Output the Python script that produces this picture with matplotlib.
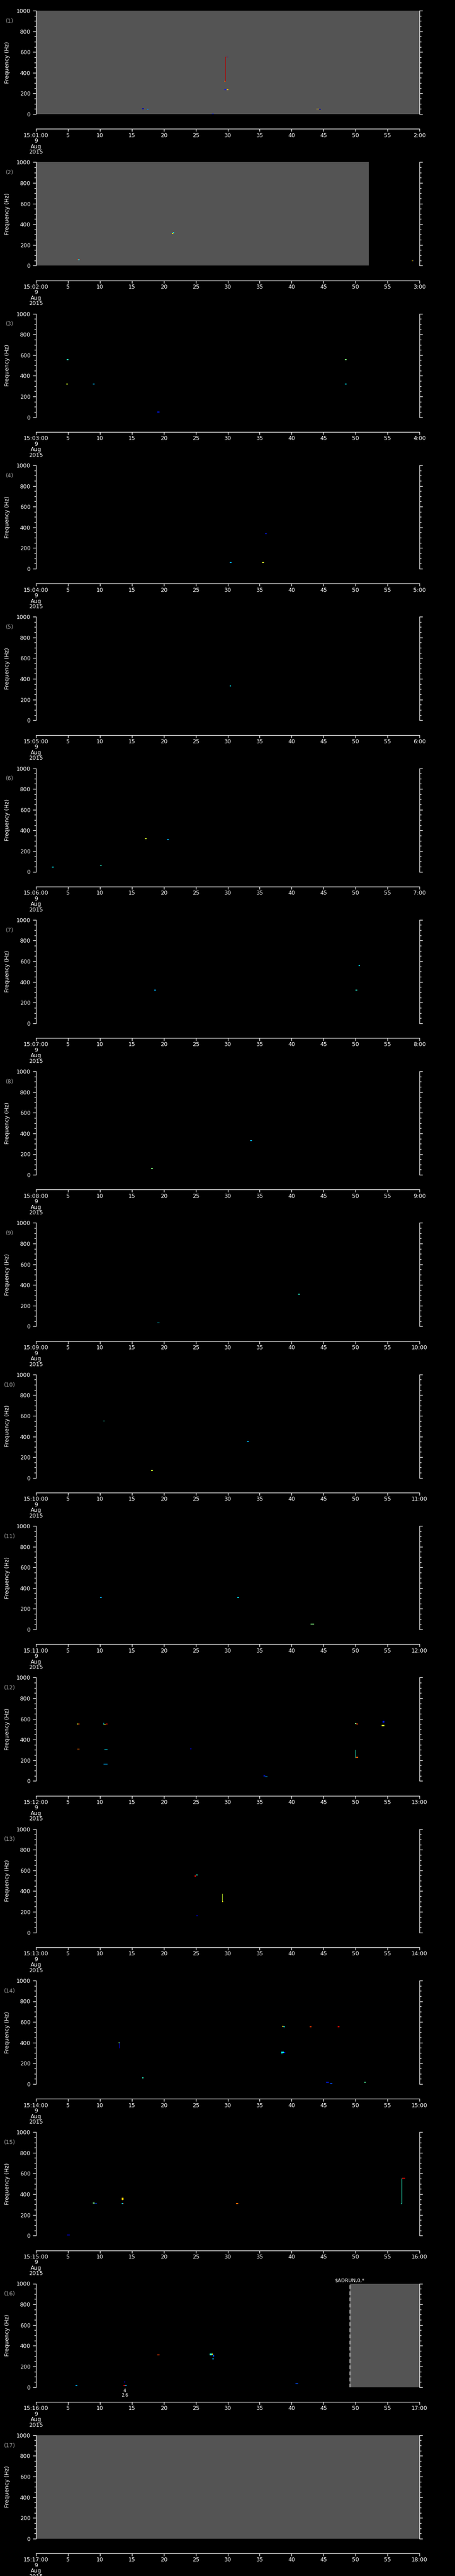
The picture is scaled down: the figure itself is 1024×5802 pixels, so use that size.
import numpy as np
import matplotlib.pyplot as plt

# one panel per minute, 15:01 .. 15:17 on 9 Aug 2015
panels = list(range(1, 18))
date_lines = ["9", "Aug", "2015"]
sec_ticks = list(range(0, 61, 5))

# seconds of each panel covered by "data but quiet" (grey)
gray_panel = [1, 2, 16, 17]
gray_start = [0, 0, 49.05, 0]
gray_end = [60, 52.1, 60, 60]

# small spectral blobs: (panel, t0 s, t1 s, f0 Hz, f1 Hz, colour level 0..1)
specks = [
    (1, 16.6, 16.9, 46, 54, 0.05), (1, 17.4, 17.6, 44, 52, 0.25),
    (1, 27.5, 27.8, 0, 6, 0.15), (1, 29.5, 29.8, 230, 240, 0.15),
    (1, 29.8, 30.1, 232, 240, 0.7), (1, 29.5, 29.7, 315, 323, 0.8),
    (1, 29.64, 29.95, 549, 555, 0.95), (1, 29.95, 30.1, 549, 555, 0.1),
    (1, 43.9, 44.3, 46, 52, 0.7), (1, 44.3, 44.6, 44, 52, 0.05),
    (2, 6.4, 6.6, 55, 62, 0.85), (2, 6.6, 6.8, 54, 60, 0.35),
    (2, 21.3, 21.5, 306, 316, 0.65), (2, 21.4, 21.6, 314, 322, 0.35),
    (2, 58.8, 59.0, 43, 49, 0.7), (2, 59.0, 59.1, 43, 49, 0.1),
    (3, 4.8, 5.1, 552, 560, 0.4), (3, 4.7, 5.0, 316, 324, 0.6),
    (3, 8.9, 9.2, 316, 324, 0.3), (3, 19.0, 19.3, 46, 54, 0.15),
    (3, 48.3, 48.6, 552, 560, 0.5), (3, 48.3, 48.6, 316, 324, 0.35),
    (4, 30.3, 30.6, 56, 64, 0.3), (4, 35.4, 35.7, 56, 64, 0.6),
    (4, 35.9, 36.1, 336, 344, 0.15),
    (5, 30.3, 30.5, 326, 334, 0.35),
    (6, 2.5, 2.8, 40, 48, 0.35), (6, 10.0, 10.3, 56, 64, 0.4),
    (6, 17.0, 17.3, 316, 324, 0.6), (6, 20.5, 20.8, 306, 314, 0.3),
    (7, 18.5, 18.8, 316, 324, 0.3), (7, 50.0, 50.3, 316, 324, 0.4),
    (7, 50.5, 50.7, 552, 560, 0.35),
    (8, 18.0, 18.3, 56, 64, 0.5), (8, 33.5, 33.8, 326, 334, 0.3),
    (9, 41.0, 41.3, 306, 314, 0.4), (9, 19.0, 19.3, 30, 38, 0.35),
    (10, 10.5, 10.8, 546, 554, 0.4), (10, 18.0, 18.3, 66, 74, 0.6),
    (10, 33.0, 33.3, 346, 354, 0.3),
    (11, 10.0, 10.3, 306, 314, 0.3), (11, 31.5, 31.8, 306, 314, 0.35),
    (11, 43.0, 43.5, 46, 54, 0.5),
    (12, 6.4, 6.6, 548, 556, 0.6), (12, 6.6, 6.8, 548, 556, 0.85),
    (12, 10.6, 10.9, 540, 548, 0.65), (12, 10.9, 11.2, 545, 553, 0.9),
    (12, 6.5, 6.8, 304, 312, 0.8), (12, 10.7, 11.2, 300, 308, 0.35),
    (12, 10.6, 11.2, 158, 166, 0.3), (12, 24.1, 24.3, 308, 316, 0.05),
    (12, 35.6, 35.9, 46, 54, 0.15), (12, 35.9, 36.2, 38, 46, 0.3),
    (12, 49.9, 50.1, 550, 558, 0.5), (12, 50.1, 50.4, 548, 556, 0.85),
    (12, 54.2, 54.5, 563, 579, 0.15), (12, 54.1, 54.5, 530, 541, 0.6),
    (12, 50.0, 50.4, 224, 232, 0.8),
    (13, 24.8, 25.0, 541, 550, 0.9), (13, 25.0, 25.3, 552, 562, 0.4),
    (13, 25.1, 25.3, 156, 164, 0.1), (13, 29.1, 29.3, 296, 304, 0.65),
    (14, 12.9, 13.1, 395, 403, 0.5), (14, 16.6, 16.8, 54, 62, 0.4),
    (14, 38.5, 38.7, 552, 560, 0.7), (14, 38.7, 38.9, 550, 558, 0.35),
    (14, 42.8, 43.1, 549, 557, 0.85), (14, 47.2, 47.5, 549, 557, 0.9),
    (14, 38.4, 38.8, 300, 312, 0.35), (14, 38.8, 39.0, 300, 310, 0.1),
    (14, 45.4, 45.8, 11, 19, 0.15), (14, 46.0, 46.4, 0, 8, 0.2),
    (14, 51.4, 51.6, 11, 19, 0.45),
    (15, 4.9, 5.3, 1, 9, 0.05), (15, 8.9, 9.2, 312, 320, 0.5),
    (15, 9.2, 9.5, 308, 316, 0.2), (15, 13.4, 13.7, 345, 366, 0.7),
    (15, 13.4, 13.6, 306, 314, 0.35), (15, 13.6, 13.7, 306, 314, 0.9),
    (15, 31.3, 31.6, 306, 314, 0.8), (15, 57.3, 57.8, 550, 558, 0.9),
    (15, 57.1, 57.3, 304, 312, 0.4),
    (16, 6.2, 6.5, 12, 20, 0.3), (16, 13.8, 14.0, 44, 54, 0.1),
    (16, 13.7, 14.0, 12, 20, 0.9), (16, 14.0, 14.2, 12, 20, 0.3),
    (16, 19.0, 19.3, 308, 316, 0.85), (16, 27.2, 27.5, 306, 326, 0.4),
    (16, 27.5, 27.7, 310, 326, 0.6), (16, 27.7, 27.9, 296, 312, 0.2),
    (16, 27.6, 27.8, 270, 278, 0.3), (16, 40.6, 41.0, 30, 37, 0.2),
]

# thin vertical streaks: (panel, t s, f0 Hz, f1 Hz, colour level)
streaks = [
    (1, 29.64, 319, 552, 0.95),
    (12, 10.55, 548, 565, 0.35), (12, 50.0, 226, 303, 0.4),
    (13, 29.15, 300, 376, 0.6),
    (14, 13.0, 349, 399, 0.1), (14, 38.45, 292, 312, 0.35),
    (15, 13.5, 345, 366, 0.7), (15, 57.2, 308, 555, 0.4),
]

# small text notes under an axis: (panel, t s, text)
notes = [(16, 13.9, "4\n2.6")]
marker_panel = 16
marker_time = 49.05
marker_text = r"\$ADRUN,0,*"

cmap = plt.get_cmap("jet")
fig = plt.figure(figsize=(10.24, 58.02), dpi=100, facecolor="black")
W, H = 1024.0, 5802.0

for i, p in enumerate(panels):
    top = 24 + 341.3 * i
    ax = fig.add_axes([81 / W, 1 - (top + 233) / H, 863 / W, 233 / H])
    ax.set_facecolor("black")
    ax.set_xlim(0, 60)
    ax.set_ylim(0, 1000)

    for gp, g0, g1 in zip(gray_panel, gray_start, gray_end):
        if gp == p:
            ax.axvspan(g0, g1, color="#545454", lw=0)

    for sp, t0, t1, f0, f1, lev in specks:
        if sp == p:
            ax.bar(t0, f1 - f0, width=t1 - t0, bottom=f0, align="edge",
                   color=cmap(lev), lw=0)
    for sp, t, f0, f1, lev in streaks:
        if sp == p:
            ax.vlines(t, f0, f1, color=cmap(lev), lw=0.8)

    if p == marker_panel:
        ax.axvline(marker_time, color="white", lw=1, ls=(0, (6, 4)))
        ax.text(marker_time, 1.01, marker_text, color="white", fontsize=8,
                ha="center", va="bottom",
                transform=ax.get_xaxis_transform())
    for npnl, t, txt in notes:
        if npnl == p:
            ax.text(t, -0.015, txt, color="white", fontsize=7, ha="center",
                    va="top", linespacing=1.0,
                    transform=ax.get_xaxis_transform())

    # axes look
    ax.spines["top"].set_visible(False)
    ax.spines["bottom"].set_position(("outward", 24))
    for s in ["left", "right", "bottom"]:
        ax.spines[s].set_color("white")
        ax.spines[s].set_linewidth(1)

    ax.set_xticks(sec_ticks)
    labels = [str(s) for s in sec_ticks]
    labels[0] = "15:%02d:00\n" % p + "\n".join(date_lines)
    labels[-1] = "%d:00" % (p + 1)
    ax.set_xticklabels(labels, linespacing=0.95)
    ax.set_yticks(range(0, 1001, 200))
    ax.set_yticks(range(0, 1001, 50), minor=True)
    ax.tick_params(axis="x", colors="white", direction="out", length=4,
                   width=1, labelsize=9, pad=2)
    ax.tick_params(axis="y", which="major", colors="white", direction="out",
                   length=5, width=1, labelsize=9, pad=4, right=True)
    ax.tick_params(axis="y", which="minor", colors="white", direction="out",
                   length=3, width=1, right=True)

    ax.set_ylabel("Frequency (Hz)", color="white", fontsize=9)
    ax.yaxis.set_label_coords(-0.067, 0.5)
    ax.text(-0.069, 0.90, "(%d)" % p, color="#a0a0a0", fontsize=9,
            ha="center", va="center", transform=ax.transAxes)

fig.savefig("out.png", dpi=100, facecolor="black")
